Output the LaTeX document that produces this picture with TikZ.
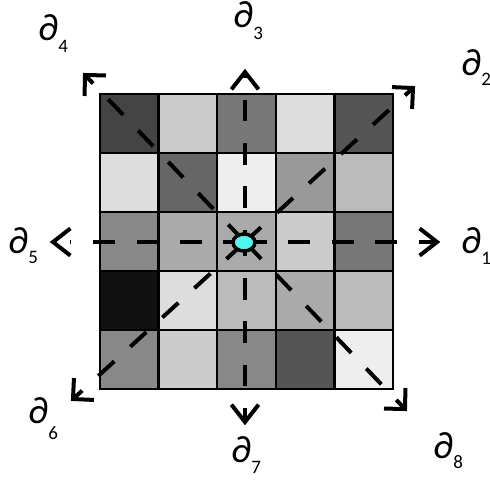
\documentclass[tikz,border=0pt]{standalone}
\usepackage{fontspec}
\setmainfont{Carlito}
\usetikzlibrary{calc,shapes.geometric}
\definecolor{dotcyan}{RGB}{80,248,238}
\newcommand\subsz{\fontsize{19}{19}\selectfont}
\newcommand\dlab[5]{\node[lbl, anchor=base west] (#1) at (#2,#3) {∂\raisebox{-#5pt}{\subsz #4}};}
\begin{document}
\begin{tikzpicture}[x=1pt,y=-1pt,
  gridline/.style={draw=black,line width=2.5pt},
  ray/.style={line width=4pt, dash pattern=on 21.7pt off 21.7pt},
  chev/.style={line width=4pt, miter limit=10},
  lbl/.style={inner sep=0pt, font=\fontsize{38}{38}\selectfont},
]
\useasboundingbox (0,0) rectangle (490,480);
% cells
\foreach \r/\list in {0/{68,204,119,221,85},1/{221,102,238,153,187},2/{136,170,170,204,119},3/{17,221,187,170,187},4/{136,204,136,85,238}}{
  \foreach \g [count=\c from 0] in \list {
    \definecolor{tmp}{RGB}{\g,\g,\g}
    \fill[tmp] (100+\c*58.6, 94+\r*59) rectangle ++(58.6,59);
  }
}
\foreach \i in {1,...,4}{
  \draw[gridline] (100+\i*58.6,94) -- (100+\i*58.6,389);
  \draw[gridline] (100,94+\i*59) -- (393,94+\i*59);
}
\draw[gridline] (100,94) rectangle (393,389);
% named points
\coordinate (c) at (245,242);
\coordinate (t1) at (437,242);
\coordinate (t2) at (413,88);
\coordinate (t3) at (245,72);
\coordinate (t4) at (85,75);
\coordinate (t5) at (53,242);
\coordinate (e5) at (70,242);
\coordinate (t6) at (73,399);
\coordinate (t7) at (245,422);
\coordinate (t8) at (405,409);
% rays
\draw[ray] (c) -- (t1);
\draw[ray] (c) -- (t2);
\draw[ray, dash phase=9.5pt] (c) -- (t3);
\draw[ray, dash phase=40.9pt] (c) -- (t4);
\draw[ray] (c) -- (e5);
\draw[ray, dash phase=40pt] (c) -- (t6);
\draw[ray, dash phase=7.5pt] (c) -- (t7);
\draw[ray, dash phase=41.7pt] (c) -- (t8);
% arrow heads
\foreach \t in {t1,t3,t5,t7}{
  \draw[chev] ($(\t)!22pt!38:(c)$) -- (\t) -- ($(\t)!22pt!-38:(c)$);
}
\foreach \t in {t2,t4,t6,t8}{
  \draw[chev] ($(\t)!21pt!45:(c)$) -- (\t) -- ($(\t)!21pt!-45:(c)$);
}
% centre dot
\node[draw, ellipse, line width=3.5pt, fill=dotcyan, minimum width=22pt, minimum height=17pt, inner sep=0pt] (dot) at (244,242.5) {};
% labels
\dlab{d1}{461}{253}{1}{11}
\dlab{d2}{461}{75}{2}{10}
\dlab{d3}{233}{27}{3}{12}
\dlab{d4}{38}{40}{4}{12}
\dlab{d5}{8}{253}{5}{10}
\dlab{d6}{28}{423}{6}{16}
\dlab{d7}{231}{462}{7}{11}
\dlab{d8}{433}{458}{8}{10}
\end{tikzpicture}
\end{document}
